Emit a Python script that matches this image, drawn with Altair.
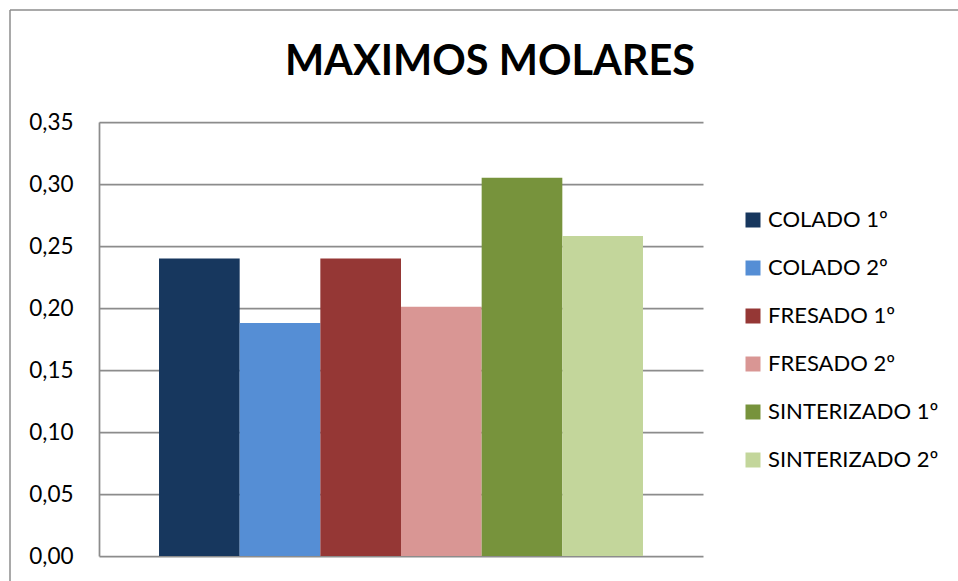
import altair as alt
import pandas as pd

# Series shown as bars, with their values and Excel-style colours
series = ["COLADO 1º", "COLADO 2º", "FRESADO 1º", "FRESADO 2º", "SINTERIZADO 1º", "SINTERIZADO 2º"]
values = [0.240, 0.188, 0.240, 0.201, 0.305, 0.258]
colors = ["#17375E", "#558ED5", "#953735", "#D99694", "#77933C", "#C3D69B"]
y_ticks = [0.00, 0.05, 0.10, 0.15, 0.20, 0.25, 0.30, 0.35]

df = pd.DataFrame({"serie": series, "valor": values})

FONT = "Lato"
GRID = "#8c8c8c"

bars = alt.Chart(df).mark_bar().encode(
    x=alt.X("serie:N", sort=series, axis=None,
            scale=alt.Scale(paddingInner=0, paddingOuter=0.744)),
    y=alt.Y("valor:Q",
            scale=alt.Scale(domain=[0, 0.35], nice=False, zero=True),
            axis=alt.Axis(values=y_ticks, title="", tickSize=0, labelPadding=26,
                          labelFontSize=22.5, labelFont=FONT, labelColor="#000000",
                          labelExpr="replace(format(datum.value, '.2f'), '.', ',')",
                          grid=True, gridColor=GRID, gridWidth=1.75,
                          domain=True, domainColor=GRID, domainWidth=1.75)),
    color=alt.Color("serie:N", sort=series,
                    scale=alt.Scale(domain=series, range=colors),
                    legend=alt.Legend(title="", orient="none", legendX=643, legendY=87,
                                      symbolType="square", symbolSize=225,
                                      symbolStrokeWidth=0, symbolOpacity=1,
                                      labelFontSize=22, labelFont=FONT, labelLimit=400,
                                      labelColor="#000000", labelOffset=4,
                                      rowPadding=26, padding=0)),
)

# Outer chart frame (left and top edges)
frame_data = alt.Data(values=[{"k": 1}])
frame_left = alt.Chart(frame_data).mark_rule(color=GRID, strokeWidth=1.5).encode(
    x=alt.value(-89), y=alt.value(-112), y2=alt.value(480))
frame_top = alt.Chart(frame_data).mark_rule(color=GRID, strokeWidth=1.5).encode(
    x=alt.value(-89), x2=alt.value(880), y=alt.value(-112))

chart = alt.layer(bars, frame_left, frame_top).properties(
    width=604, height=434,
    padding={"left": 99, "top": 122, "right": 255, "bottom": 25},
    autosize=alt.AutoSizeParams(type="none"),
    background="white",
    title=alt.TitleParams("MAXIMOS MOLARES", font=FONT, fontSize=41.5, fontWeight="bold",
                          color="#000000", anchor="middle", frame="group",
                          baseline="bottom", offset=-116, dx=89),
).configure_view(stroke=None)

chart.save("out.html", embed_options={"renderer": "svg", "actions": False})
